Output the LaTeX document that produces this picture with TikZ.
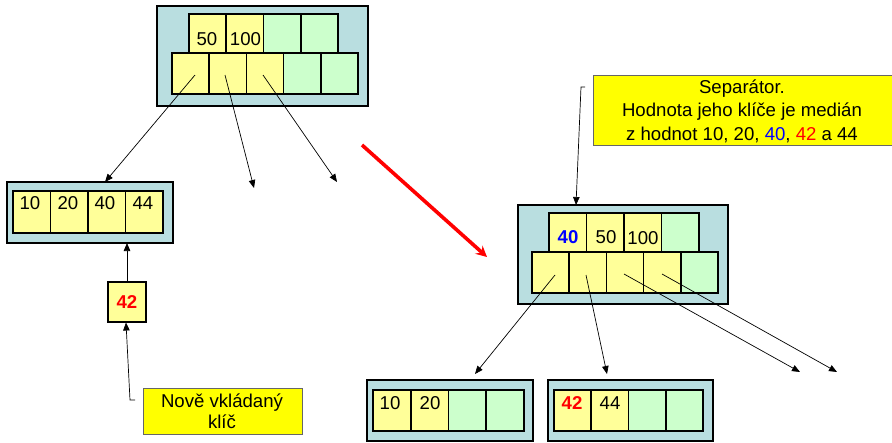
\documentclass[tikz,border=0pt]{standalone}
\usepackage{fontspec}
\setmainfont{Liberation Sans}
\usetikzlibrary{arrows.meta}
\definecolor{nodebg}{RGB}{185,222,224}
\definecolor{cy}{RGB}{255,255,153}
\definecolor{cg}{RGB}{204,255,204}
\definecolor{calloutfill}{RGB}{255,255,0}
\definecolor{keyblue}{RGB}{0,0,255}
\definecolor{keyred}{RGB}{255,0,0}
\newcommand\drawbox[6]{\node[#2, anchor=north west, minimum width=#5pt, minimum height=#6pt] (#1) at (#3,#4) {};}
\begin{document}
\begin{tikzpicture}[x=1pt,y=-1pt,
  every node/.style={inner sep=0pt, outer sep=0pt},
  outerbox/.style={draw=black, fill=nodebg, line width=1.6pt},
  ycell/.style={draw=black, fill=cy, line width=1.6pt},
  gcell/.style={draw=black, fill=cg, line width=1.6pt},
  calloutbox/.style={draw=black!60, fill=calloutfill, line width=0.8pt},
  celltxt/.style={font=\fontsize{18.6}{21}\selectfont},
  bluekey/.style={celltxt, font=\fontsize{18.6}{21}\selectfont\bfseries, text=keyblue},
  redkey/.style={celltxt, font=\fontsize{18.6}{21}\selectfont\bfseries, text=keyred},
  ptr/.style={-{Triangle[length=8pt,width=6.5pt]}, line width=0.7pt, black},
  bigarrow/.style={-{Stealth[length=11pt,width=11pt,inset=4pt]}, line width=3.6pt, keyred}
]
\useasboundingbox (0,0) rectangle (892,442);
\clip (0,0) rectangle (892,442);
\fill[white] (0,0) rectangle (892,442);

% ---- top node (before split)
\drawbox{A}{outerbox}{157}{6}{211}{100}
\drawbox{Ak1}{ycell}{189}{14}{37.25}{39}
\drawbox{Ak2}{ycell}{226.25}{14}{37.25}{39}
\drawbox{Ak3}{gcell}{263.5}{14}{37.25}{39}
\drawbox{Ak4}{gcell}{300.75}{14}{37.25}{39}
\drawbox{Ap1}{ycell}{172}{53}{37.2}{41}
\drawbox{Ap2}{ycell}{209.2}{53}{37.2}{41}
\drawbox{Ap3}{ycell}{246.4}{53}{37.2}{41}
\drawbox{Ap4}{gcell}{283.6}{53}{37.2}{41}
\drawbox{Ap5}{gcell}{320.8}{53}{37.2}{41}
\node[celltxt] (At1) at (207,39) {50};
\node[celltxt] (At2) at (245.5,39) {100};

% ---- left leaf
\drawbox{B}{outerbox}{7}{182}{166}{61}
\drawbox{Bc1}{ycell}{13}{191}{37.5}{42}
\drawbox{Bc2}{ycell}{50.5}{191}{37.5}{42}
\drawbox{Bc3}{ycell}{88}{191}{37.5}{42}
\drawbox{Bc4}{ycell}{125.5}{191}{37.5}{42}
\node[celltxt] (Bt1) at (30,203) {10};
\node[celltxt] (Bt2) at (68,203) {20};
\node[celltxt] (Bt3) at (105,203) {40};
\node[celltxt] (Bt4) at (143,203) {44};

% ---- new key
\drawbox{C}{ycell}{108}{282}{38}{40}
\node[redkey] (Ct) at (127,302) {42};

% ---- callout new key
\drawbox{D}{calloutbox}{143}{388}{159}{46}
\node[celltxt, align=center, font=\fontsize{18.6}{21}\selectfont] (Dt) at (222,411) {Nově vkládaný\\klíč};

% ---- callout separator
\drawbox{E}{calloutbox}{593}{75}{302}{70}
\node[celltxt, align=center, font=\fontsize{18.6}{23.5}\selectfont] (Et) at (742,111)
  {Separátor.\\Hodnota jeho klíče je medián\\z hodnot 10, 20, \textcolor{keyblue}{40}, \textcolor{keyred}{42} a 44};

% ---- right node (after split)
\drawbox{F}{outerbox}{518}{205}{210}{99}
\drawbox{Fk1}{ycell}{549}{213}{37.5}{39}
\drawbox{Fk2}{ycell}{586.5}{213}{37.5}{39}
\drawbox{Fk3}{ycell}{624}{213}{37.5}{39}
\drawbox{Fk4}{gcell}{661.5}{213}{37.5}{39}
\drawbox{Fp1}{ycell}{532}{252}{37.2}{41}
\drawbox{Fp2}{ycell}{569.2}{252}{37.2}{41}
\drawbox{Fp3}{ycell}{606.4}{252}{37.2}{41}
\drawbox{Fp4}{ycell}{643.6}{252}{37.2}{41}
\drawbox{Fp5}{gcell}{680.8}{252}{37.2}{41}
\node[bluekey] (Ft1) at (568,237) {40};
\node[celltxt] (Ft2) at (606,237) {50};
\node[celltxt] (Ft3) at (643,238) {100};

% ---- bottom leaves
\drawbox{G}{outerbox}{367}{380}{166}{61}
\drawbox{Gc1}{ycell}{373}{390}{37.75}{41}
\drawbox{Gc2}{ycell}{410.75}{390}{37.75}{41}
\drawbox{Gc3}{gcell}{448.5}{390}{37.75}{41}
\drawbox{Gc4}{gcell}{486.25}{390}{37.75}{41}
\node[celltxt] (Gt1) at (390,403) {10};
\node[celltxt] (Gt2) at (430,403) {20};

\drawbox{H}{outerbox}{548}{380}{165}{61}
\drawbox{Hc1}{ycell}{554}{390}{37.25}{41}
\drawbox{Hc2}{ycell}{591.25}{390}{37.25}{41}
\drawbox{Hc3}{gcell}{628.5}{390}{37.25}{41}
\drawbox{Hc4}{gcell}{665.75}{390}{37.25}{41}
\node[redkey] (Ht1) at (572,403) {42};
\node[celltxt] (Ht2) at (610,403) {44};

% ---- connector coordinates
\coordinate (As1) at (195,75);
\coordinate (As2) at (225,75);
\coordinate (As3) at (263,75);
\coordinate (Ae2) at (254,188);
\coordinate (Ae3) at (337,182);
\coordinate (Fs1) at (555,275);
\coordinate (Fs2) at (586,275);
\coordinate (Fs3) at (624,274);
\coordinate (Fs4) at (662,274);
\coordinate (Fe1) at (475,374);
\coordinate (Fe2) at (607,374);
\coordinate (Fe3) at (800,372);
\coordinate (Fe4) at (837,372);
\coordinate (Ds) at (135,400);
\coordinate (Dk) at (130,400);
\coordinate (Es) at (585,87);
\coordinate (Ek) at (581,87);
\coordinate (Re1) at (362,145);
\coordinate (Re2) at (487,257);

% ---- connectors
\draw[ptr] (As1) -- (B.north -| 105,0);
\draw[ptr] (As2) -- (Ae2);
\draw[ptr] (As3) -- (Ae3);
\draw[ptr] (C.north) -- (C.north |- B.south);
\draw[ptr] (Ds) -- (Dk) -- (126,322.5);
\draw[ptr] (Es) -- (Ek) -- (F.north -| 576,0);
\draw[ptr] (Fs1) -- (Fe1);
\draw[ptr] (Fs2) -- (Fe2);
\draw[ptr] (Fs3) -- (Fe3);
\draw[ptr] (Fs4) -- (Fe4);
\draw[bigarrow] (Re1) -- (Re2);
\end{tikzpicture}
\end{document}
